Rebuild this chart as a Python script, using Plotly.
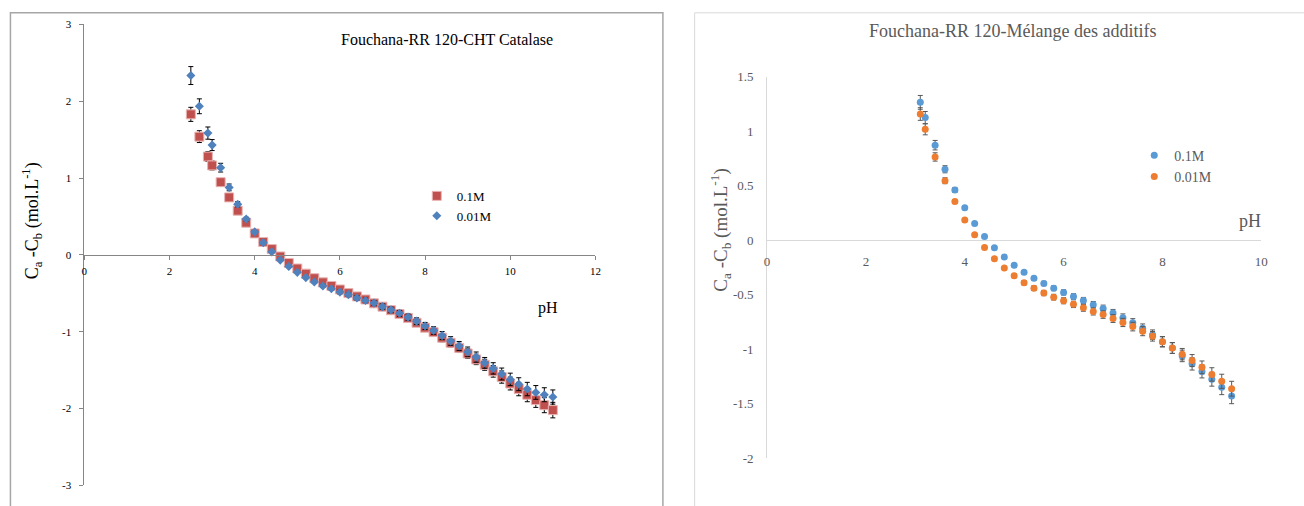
import plotly.graph_objects as go

# ---------------- data ----------------
ph_left = [2.5, 2.7, 2.9, 3.0, 3.2, 3.4, 3.6, 3.8, 4.0, 4.2, 4.4, 4.6, 4.8, 5.0, 5.2, 5.4,
           5.6, 5.8, 6.0, 6.2, 6.4, 6.6, 6.8, 7.0, 7.2, 7.4, 7.6, 7.8, 8.0, 8.2, 8.4, 8.6,
           8.8, 9.0, 9.2, 9.4, 9.6, 9.8, 10.0, 10.2, 10.4, 10.6, 10.8, 11.0]
catalase_01M = [1.83, 1.54, 1.28, 1.165, 0.947, 0.749, 0.576, 0.42, 0.28, 0.168, 0.076, -0.02,
                -0.105, -0.177, -0.244, -0.303, -0.357, -0.404, -0.45, -0.497, -0.54, -0.58,
                -0.63, -0.673, -0.72, -0.77, -0.82, -0.883, -0.947, -1.005, -1.077, -1.144,
                -1.21, -1.283, -1.36, -1.43, -1.515, -1.59, -1.674, -1.746, -1.82, -1.89,
                -1.956, -2.02]
catalase_001M = [2.335, 1.935, 1.586, 1.43, 1.136, 0.879, 0.66, 0.467, 0.30, 0.16, 0.04, -0.067,
                 -0.15, -0.227, -0.295, -0.353, -0.404, -0.44, -0.484, -0.517, -0.56, -0.593,
                 -0.627, -0.673, -0.715, -0.76, -0.81, -0.862, -0.925, -0.984, -1.05, -1.12,
                 -1.186, -1.262, -1.33, -1.405, -1.477, -1.55, -1.62, -1.683, -1.746, -1.79,
                 -1.82, -1.85]

ph_right = [3.1, 3.2, 3.4, 3.6, 3.8, 4.0, 4.2, 4.4, 4.6, 4.8, 5.0, 5.2, 5.4, 5.6, 5.8, 6.0,
            6.2, 6.4, 6.6, 6.8, 7.0, 7.2, 7.4, 7.6, 7.8, 8.0, 8.2, 8.4, 8.6, 8.8, 9.0, 9.2, 9.4]
melange_01M = [1.266, 1.126, 0.873, 0.652, 0.462, 0.298, 0.154, 0.036, -0.068, -0.154, -0.229,
               -0.294, -0.348, -0.396, -0.44, -0.478, -0.516, -0.552, -0.591, -0.626, -0.668,
               -0.711, -0.757, -0.808, -0.866, -0.93, -0.989, -1.061, -1.134, -1.203, -1.275,
               -1.349, -1.428]
melange_001M = [1.159, 1.019, 0.765, 0.547, 0.356, 0.186, 0.05, -0.065, -0.169, -0.255, -0.326,
                -0.389, -0.439, -0.484, -0.522, -0.555, -0.588, -0.62, -0.653, -0.682, -0.718,
                -0.754, -0.792, -0.834, -0.881, -0.932, -0.988, -1.045, -1.104, -1.166, -1.231,
                -1.294, -1.362]

left_xticks = [0, 2, 4, 6, 8, 10, 12]
left_yticks = [-3, -2, -1, 0, 1, 2, 3]
left_yticklabels = ["-3", "-2", "-1", "0", "1", "2", "3"]
right_xticks = [0, 2, 4, 6, 8, 10]
right_yticks = [-2, -1.5, -1, -0.5, 0, 0.5, 1, 1.5]
right_yticklabels = ["-2", "-1.5", "-1", "-0.5", "0", "0.5", "1", "1.5"]

title_left = "Fouchana-RR 120-CHT Catalase"
title_right = "Fouchana-RR 120-Mélange des additifs"
ytitle = "C<sub>a</sub> -C<sub>b</sub> (mol.L<sup>-1</sup>)"

# ---------------- layout helpers ----------------
W, H = 1304, 506
FONT = "Liberation Serif"


def fx(px):
    return px / W


def fy(py):
    return 1 - py / H


left_xdom = [fx(82), fx(597)]
left_ydom = [fy(493), fy(18)]
left_yrange = [-3, 3]
right_xdom = [fx(770), fx(1268)]
right_ydom = [fy(465), fy(72)]
right_yrange = [-2, 1.5]


def zero_pos(dom, rng):
    return dom[0] + (0 - rng[0]) / (rng[1] - rng[0]) * (dom[1] - dom[0])


fig = go.Figure()

fig.add_trace(go.Scatter(
    x=ph_left, y=catalase_01M, mode="markers", name="0.1M", xaxis="x", yaxis="y",
    legend="legend",
    marker=dict(symbol="square", size=9, color="#C0504D", line=dict(color="#E8B4B3", width=1)),
    error_y=dict(type="percent", value=5, color="black", thickness=1, width=2.5),
))
fig.add_trace(go.Scatter(
    x=ph_left, y=catalase_001M, mode="markers", name="0.01M", xaxis="x", yaxis="y",
    legend="legend",
    marker=dict(symbol="diamond", size=7, color="#4F81BD", line=dict(width=0)),
    error_y=dict(type="percent", value=5, color="black", thickness=1, width=2.5),
))
fig.add_trace(go.Scatter(
    x=ph_right, y=melange_01M, mode="markers", name="0.1M", xaxis="x2", yaxis="y2",
    legend="legend2",
    marker=dict(symbol="circle", size=7, color="#5B9BD5", line=dict(width=0)),
    error_y=dict(type="percent", value=5, color="#595959", thickness=1, width=2.5),
))
fig.add_trace(go.Scatter(
    x=ph_right, y=melange_001M, mode="markers", name="0.01M", xaxis="x2", yaxis="y2",
    legend="legend2",
    marker=dict(symbol="circle", size=7, color="#ED7D31", line=dict(width=0)),
    error_y=dict(type="percent", value=5, color="#595959", thickness=1, width=2.5),
))

fig.update_layout(
    width=W, height=H,
    margin=dict(l=0, r=0, t=0, b=0),
    paper_bgcolor="white", plot_bgcolor="white",
    font=dict(family=FONT, color="black"),
    xaxis=dict(domain=left_xdom, range=[0, 12], anchor="free",
               position=zero_pos(left_ydom, left_yrange),
               showline=True, linecolor="#868686", linewidth=1,
               ticks="outside", ticklen=4, tickcolor="#868686",
               tickvals=left_xticks, ticklabelstandoff=2,
               tickfont=dict(family=FONT, size=11, color="black"),
               showgrid=False, zeroline=False),
    yaxis=dict(domain=left_ydom, range=left_yrange, anchor="x",
               showline=True, linecolor="#868686", linewidth=1,
               ticks="outside", ticklen=4, tickcolor="#868686",
               tickvals=left_yticks, ticktext=left_yticklabels, ticklabelstandoff=6,
               tickfont=dict(family=FONT, size=11, color="black"),
               showgrid=False, zeroline=False),
    xaxis2=dict(domain=right_xdom, range=[0, 10], anchor="free",
                position=zero_pos(right_ydom, right_yrange),
                showline=True, linecolor="#D9D9D9", linewidth=1, ticks="",
                tickvals=right_xticks, ticklabelstandoff=9,
                tickfont=dict(family=FONT, size=13, color="#595959"),
                showgrid=False, zeroline=False),
    yaxis2=dict(domain=right_ydom, range=right_yrange, anchor="x2",
                showline=True, linecolor="#D9D9D9", linewidth=1, ticks="",
                tickvals=right_yticks, ticktext=right_yticklabels, ticklabelstandoff=10,
                tickfont=dict(family=FONT, size=13, color="#595959"),
                showgrid=False, zeroline=False),
    legend=dict(x=fx(417), y=fy(205), xanchor="left", yanchor="middle",
                bgcolor="rgba(0,0,0,0)", font=dict(family=FONT, size=13, color="black")),
    legend2=dict(x=fx(1140), y=fy(164), xanchor="left", yanchor="middle",
                 bgcolor="rgba(0,0,0,0)", font=dict(family=FONT, size=14, color="#595959")),
    shapes=[
        dict(type="rect", xref="paper", yref="paper", x0=fx(7.5), x1=fx(665), y0=-0.1, y1=fy(6),
             line=dict(color="#A6A6A6", width=1.5), fillcolor="rgba(0,0,0,0)", layer="below"),
        dict(type="rect", xref="paper", yref="paper", x0=fx(697), x1=1.1, y0=-0.1, y1=fy(6),
             line=dict(color="#D9D9D9", width=1), fillcolor="rgba(0,0,0,0)", layer="below"),
    ],
    annotations=[
        dict(text=title_left, xref="paper", yref="paper", x=fx(447), y=fy(33),
             xanchor="center", yanchor="middle", showarrow=False,
             font=dict(family=FONT, size=16, color="black")),
        dict(text=title_right, xref="paper", yref="paper", x=fx(1017), y=fy(25),
             xanchor="center", yanchor="middle", showarrow=False,
             font=dict(family=FONT, size=18, color="#595959")),
        dict(text=ytitle, xref="paper", yref="paper", x=fx(29), y=fy(220), textangle=-90,
             xanchor="center", yanchor="middle", showarrow=False,
             font=dict(family=FONT, size=18, color="black")),
        dict(text=ytitle, xref="paper", yref="paper", x=fx(723), y=fy(230), textangle=-90,
             xanchor="center", yanchor="middle", showarrow=False,
             font=dict(family=FONT, size=19, color="#595959")),
        dict(text="pH", xref="paper", yref="paper", x=fx(549), y=fy(310),
             xanchor="center", yanchor="middle", showarrow=False,
             font=dict(family=FONT, size=16, color="black")),
        dict(text="pH", xref="paper", yref="paper", x=fx(1257), y=fy(221),
             xanchor="center", yanchor="middle", showarrow=False,
             font=dict(family=FONT, size=18, color="#595959")),
    ],
)

fig.write_html("out.html", config={"displayModeBar": False},
               post_script="document.body.style.margin='0px';document.body.style.overflow='hidden';")
